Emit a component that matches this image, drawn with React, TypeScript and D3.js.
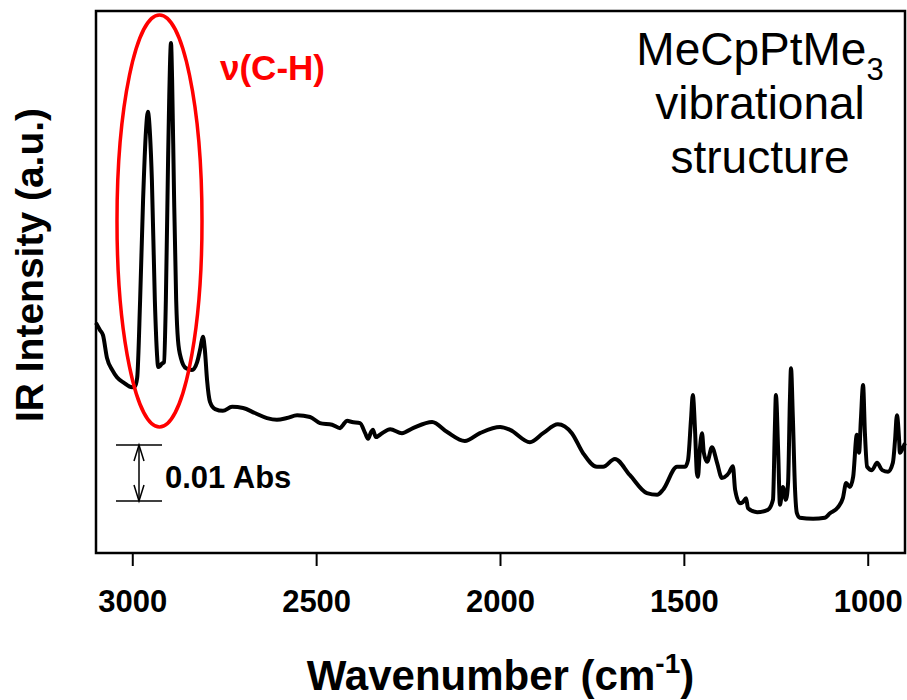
import React, { useEffect, useRef } from 'react';
import * as d3 from 'd3';

// wavenumber (cm-1), high to low
const wavenumbers = [
  3100, 3089, 3081, 3070, 3056, 3043, 3024, 3002, 2994, 2988,
  2980, 2972, 2964, 2959, 2953, 2948, 2940, 2934, 2931, 2926,
  2921, 2915, 2910, 2904, 2901, 2896, 2893, 2888, 2882, 2877,
  2869, 2855, 2839, 2825, 2817, 2812, 2809, 2804, 2798, 2790,
  2776, 2755, 2730, 2700, 2668, 2635, 2608, 2581, 2553, 2518,
  2491, 2458, 2436, 2428, 2417, 2404, 2382, 2368, 2360, 2352,
  2347, 2339, 2322, 2300, 2268, 2238, 2186, 2145, 2097, 2056,
  2001, 1974, 1920, 1884, 1844, 1806, 1776, 1738, 1721, 1689,
  1648, 1602, 1574, 1558, 1520, 1498, 1490, 1482, 1477, 1471,
  1466, 1463, 1458, 1452, 1447, 1438, 1425, 1411, 1398, 1384,
  1379, 1368, 1362, 1349, 1341, 1332, 1327, 1302, 1273, 1259,
  1254, 1251, 1245, 1240, 1232, 1224, 1218, 1213, 1210, 1205,
  1199, 1194, 1186, 1150, 1118, 1104, 1082, 1069, 1060, 1050,
  1041, 1031, 1025, 1020, 1014, 1009, 1003, 990, 976, 962,
  946, 933, 927, 922, 916, 914, 905, 900,
];

// absorbance (Abs), same order
const absorbance = [
  0.0411, 0.0398, 0.0389, 0.0348, 0.0327, 0.0314, 0.0304, 0.0296, 0.0298, 0.0313,
  0.0452, 0.0630, 0.0755, 0.0788, 0.0746, 0.0666, 0.0452, 0.0354, 0.0332, 0.0334,
  0.0338, 0.0341, 0.0452, 0.0702, 0.0809, 0.0911, 0.0845, 0.0648, 0.0452, 0.0380,
  0.0348, 0.0330, 0.0327, 0.0341, 0.0363, 0.0380, 0.0386, 0.0363, 0.0309, 0.0270,
  0.0257, 0.0254, 0.0261, 0.0259, 0.0250, 0.0241, 0.0238, 0.0241, 0.0246, 0.0243,
  0.0232, 0.0229, 0.0223, 0.0229, 0.0236, 0.0234, 0.0232, 0.0214, 0.0204, 0.0216,
  0.0220, 0.0207, 0.0214, 0.0221, 0.0214, 0.0223, 0.0234, 0.0216, 0.0200, 0.0214,
  0.0225, 0.0220, 0.0198, 0.0214, 0.0230, 0.0214, 0.0179, 0.0154, 0.0154, 0.0168,
  0.0139, 0.0107, 0.0104, 0.0113, 0.0154, 0.0154, 0.0166, 0.0238, 0.0282, 0.0220,
  0.0143, 0.0136, 0.0184, 0.0214, 0.0179, 0.0163, 0.0189, 0.0161, 0.0134, 0.0139,
  0.0143, 0.0155, 0.0113, 0.0089, 0.0091, 0.0098, 0.0080, 0.0073, 0.0077, 0.0095,
  0.0220, 0.0282, 0.0184, 0.0086, 0.0118, 0.0095, 0.0125, 0.0273, 0.0330, 0.0243,
  0.0113, 0.0071, 0.0063, 0.0061, 0.0063, 0.0071, 0.0082, 0.0098, 0.0125, 0.0118,
  0.0136, 0.0211, 0.0179, 0.0238, 0.0300, 0.0214, 0.0154, 0.0148, 0.0161, 0.0148,
  0.0145, 0.0161, 0.0202, 0.0246, 0.0202, 0.0179, 0.0189, 0.0196,
];

const xTicks = [3000, 2500, 2000, 1500, 1000];
const titleLines = ['vibrational', 'structure'];

const FONT = 'Arial, "Liberation Sans", sans-serif';

function App() {
  const ref = useRef();
  const width = 907;
  const height = 700;

  useEffect(() => {
    const svg = d3.select(ref.current);
    svg.selectAll('*').remove();

    const left = 96, right = 905, top = 11, bottom = 553;

    const x = d3.scaleLinear().domain([3100, 900]).range([left, right]);
    const y = d3.scaleLinear().domain([0, 0.0968]).range([bottom, top]);

    const data = wavenumbers.map((w, i) => ({ w, a: absorbance[i] }));

    // frame
    svg.append('rect')
      .attr('x', left).attr('y', top)
      .attr('width', right - left).attr('height', bottom - top)
      .attr('fill', 'none').attr('stroke', '#000').attr('stroke-width', 2.5);

    // x ticks + labels
    const tickG = svg.append('g');
    tickG.selectAll('line')
      .data(xTicks)
      .enter().append('line')
      .attr('x1', d => x(d)).attr('x2', d => x(d))
      .attr('y1', bottom).attr('y2', bottom + 13)
      .attr('stroke', '#000').attr('stroke-width', 2);
    tickG.selectAll('text')
      .data(xTicks)
      .enter().append('text')
      .attr('x', d => x(d))
      .attr('y', 612)
      .attr('text-anchor', 'middle')
      .attr('font-family', FONT).attr('font-weight', 'bold').attr('font-size', 31)
      .text(d => d);

    // spectrum
    const line = d3.line()
      .x(d => x(d.w))
      .y(d => y(d.a))
      .curve(d3.curveMonotoneX);
    svg.append('path')
      .datum(data)
      .attr('d', line)
      .attr('fill', 'none')
      .attr('stroke', '#000')
      .attr('stroke-width', 4)
      .attr('stroke-linejoin', 'round');

    // C-H ellipse
    svg.append('ellipse')
      .attr('cx', 159.5).attr('cy', 221)
      .attr('rx', 42.5).attr('ry', 206)
      .attr('fill', 'none').attr('stroke', '#ff0000').attr('stroke-width', 3.5);

    svg.append('text')
      .attr('x', 220).attr('y', 80)
      .attr('fill', '#ff0000')
      .attr('font-family', FONT).attr('font-weight', 'bold').attr('font-size', 35)
      .text('\u03bd(C-H)');

    // title
    const t1 = svg.append('text')
      .attr('x', 760).attr('y', 65)
      .attr('text-anchor', 'middle')
      .attr('font-family', FONT).attr('font-size', 46);
    t1.append('tspan').text('MeCpPtMe');
    t1.append('tspan').attr('font-size', 31).attr('dy', 15).text('3');

    svg.selectAll('.tline')
      .data(titleLines)
      .enter().append('text')
      .attr('class', 'tline')
      .attr('x', 760)
      .attr('y', (d, i) => 119 + i * 54)
      .attr('text-anchor', 'middle')
      .attr('font-family', FONT).attr('font-size', 46)
      .text(d => d);

    // 0.01 Abs scale bar
    const sbTop = y(0.0193);
    const sbBot = y(0.0093);
    const sbX = 139;
    const sb = svg.append('g').attr('stroke', '#000').attr('stroke-width', 1.5).attr('fill', 'none');
    sb.append('line').attr('x1', 116).attr('x2', 162).attr('y1', sbTop).attr('y2', sbTop);
    sb.append('line').attr('x1', 116).attr('x2', 162).attr('y1', sbBot).attr('y2', sbBot);
    sb.append('line').attr('x1', sbX).attr('x2', sbX).attr('y1', sbTop).attr('y2', sbBot);
    sb.append('path').attr('d', `M${sbX - 5},${sbTop + 16}L${sbX},${sbTop}L${sbX + 5},${sbTop + 16}`);
    sb.append('path').attr('d', `M${sbX - 5},${sbBot - 16}L${sbX},${sbBot}L${sbX + 5},${sbBot - 16}`);

    svg.append('text')
      .attr('x', 165).attr('y', 488)
      .attr('font-family', FONT).attr('font-weight', 'bold').attr('font-size', 31)
      .text('0.01 Abs');

    // axis titles
    const xt = svg.append('text')
      .attr('x', (left + right) / 2).attr('y', 690)
      .attr('text-anchor', 'middle')
      .attr('font-family', FONT).attr('font-weight', 'bold').attr('font-size', 42);
    xt.append('tspan').text('Wavenumber (cm');
    xt.append('tspan').attr('font-size', 28).attr('dy', -17).text('-1');
    xt.append('tspan').attr('dy', 17).text(')');

    svg.append('text')
      .attr('transform', 'translate(43,265) rotate(-90)')
      .attr('text-anchor', 'middle')
      .attr('font-family', FONT).attr('font-weight', 'bold').attr('font-size', 39)
      .text('IR Intensity (a.u.)');
  }, []);

  return (
    <svg
      ref={ref}
      width={width}
      height={height}
      style={{ position: 'absolute', left: 0, top: 0, background: '#fff' }}
    />
  );
}

export default App;
